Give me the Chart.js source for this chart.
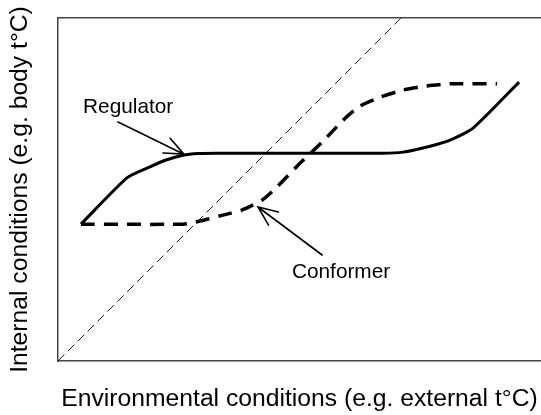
<!DOCTYPE html>
<html>
<head>
<meta charset="utf-8">
<script src="https://cdn.jsdelivr.net/npm/chart.js@4/dist/chart.umd.min.js"></script>
<style>
html, body { margin: 0; padding: 0; background: #fff; }
#wrap { width: 541px; height: 415px; }
</style>
</head>
<body>
<div id="wrap"><canvas id="chart"></canvas></div>
<script>
// x = environmental t, y = internal t, same units (diagonal = equal)
var regulatorX = [6.7, 20.1, 26.8, 31.5, 36.4, 41.0, 46.4, 94.5, 100.6, 107.6, 114.3, 121.0, 134.4];
var regulatorY = [39.9, 53.4, 56.6, 58.6, 60.0, 60.5, 60.6, 60.6, 60.9, 62.4, 64.4, 67.9, 81.3];
var conformerX = [6.7, 36.4, 41.4, 47.2, 53.6, 59.5, 63.8, 70.6, 77.0, 83.7, 88.0, 93.9, 100.6, 107.6, 114.3, 128.0];
var conformerY = [39.9, 39.9, 40.8, 42.3, 44.0, 46.9, 50.7, 57.7, 63.8, 70.8, 74.3, 76.9, 79.0, 80.2, 80.8, 80.8];
var equalX = [0, 100];
var equalY = [0, 100];

// annotations
var noteText = ["Regulator", "Conformer"];
var noteX = [7.3, 68.2];
var noteY = [72.3, 24.2];
var arrowFromX = [17.5, 77.0];
var arrowFromY = [69.7, 30.9];
var arrowToX = [36.7, 58.3];
var arrowToY = [60.3, 44.9];

var xMax = 140.8;
var yMax = 100;
var axisColor = "#444";
var fontFamily = "'Liberation Sans', Arial, sans-serif";

function toPoints(xs, ys) {
    var pts = [];
    for (var i = 0; i < xs.length; i++) {
        pts.push({x: xs[i], y: ys[i]});
    }
    return pts;
}

var notesPlugin = {
    id: "notes",
    afterDatasetsDraw: function (chart) {
        var ctx = chart.ctx;
        var sx = chart.scales.x, sy = chart.scales.y;
        ctx.save();
        ctx.strokeStyle = "#000";
        ctx.fillStyle = "#000";
        ctx.lineWidth = 1.6;
        ctx.lineCap = "round";
        for (var i = 0; i < arrowFromX.length; i++) {
            var x0 = sx.getPixelForValue(arrowFromX[i]), y0 = sy.getPixelForValue(arrowFromY[i]);
            var x1 = sx.getPixelForValue(arrowToX[i]), y1 = sy.getPixelForValue(arrowToY[i]);
            var a = Math.atan2(y1 - y0, x1 - x0);
            var len = 21, spread = 0.4;
            ctx.beginPath();
            ctx.moveTo(x0, y0);
            ctx.lineTo(x1, y1);
            ctx.moveTo(x1 - len * Math.cos(a - spread), y1 - len * Math.sin(a - spread));
            ctx.lineTo(x1, y1);
            ctx.lineTo(x1 - len * Math.cos(a + spread), y1 - len * Math.sin(a + spread));
            ctx.stroke();
        }
        ctx.font = "20.8px " + fontFamily;
        ctx.textBaseline = "alphabetic";
        ctx.textAlign = "left";
        for (var j = 0; j < noteText.length; j++) {
            ctx.fillText(noteText[j], sx.getPixelForValue(noteX[j]), sy.getPixelForValue(noteY[j]));
        }
        ctx.restore();
    }
};

new Chart(document.getElementById("chart"), {
    type: "line",
    data: {
        datasets: [
            {
                label: "Equal",
                data: toPoints(equalX, equalY),
                borderColor: "#000",
                borderWidth: 0.9,
                borderDash: [9, 5],
                pointRadius: 0,
                tension: 0
            },
            {
                label: "Regulator",
                data: toPoints(regulatorX, regulatorY),
                borderColor: "#000",
                borderWidth: 3,
                pointRadius: 0,
                tension: 0.2
            },
            {
                label: "Conformer",
                data: toPoints(conformerX, conformerY),
                borderColor: "#000",
                borderWidth: 3.5,
                borderDash: [14, 9],
                pointRadius: 0,
                tension: 0.2
            }
        ]
    },
    options: {
        responsive: true,
        maintainAspectRatio: false,
        animation: false,
        layout: {padding: 0},
        plugins: {legend: {display: false}, tooltip: {enabled: false}},
        scales: {
            x: {
                type: "linear", min: 0, max: xMax, position: "bottom",
                grid: {display: false},
                ticks: {display: false},
                border: {display: true, color: axisColor, width: 1.5},
                title: {
                    display: true,
                    text: "Environmental conditions (e.g. external t°C)",
                    color: "#000",
                    font: {family: fontFamily, size: 24.7, lineHeight: 1.2},
                    padding: {top: 0, bottom: 1}
                },
                afterFit: function (scale) { scale.height = 54; }
            },
            xTop: {
                type: "linear", min: 0, max: xMax, position: "top",
                grid: {display: false},
                ticks: {display: false},
                border: {display: true, color: axisColor, width: 1.5},
                afterFit: function (scale) { scale.height = 18; }
            },
            y: {
                type: "linear", min: 0, max: yMax, position: "left",
                grid: {display: false},
                ticks: {display: false},
                border: {display: true, color: axisColor, width: 1.5},
                title: {
                    display: true,
                    text: "Internal conditions (e.g. body t°C)",
                    color: "#000",
                    font: {family: fontFamily, size: 24.7, lineHeight: 1.2},
                    padding: {top: 5, bottom: 0}
                },
                afterFit: function (scale) { scale.width = 58; }
            }
        }
    },
    plugins: [notesPlugin]
});
</script>
</body>
</html>
